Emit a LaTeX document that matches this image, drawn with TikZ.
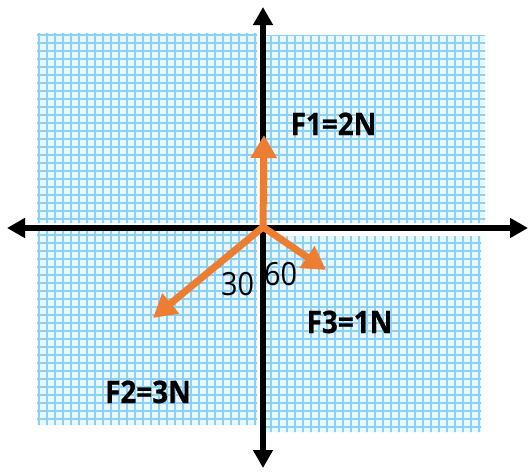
\documentclass[tikz,border=0pt]{standalone}
\usepackage{fontspec}
\setmainfont{Open Sans}
\usetikzlibrary{arrows.meta}
\definecolor{gridblue}{RGB}{140,208,242}
\definecolor{gridfill}{RGB}{232,246,253}
\definecolor{forceorange}{RGB}{237,125,49}
\begin{document}
\begin{tikzpicture}[x=1pt,y=-1pt,
  axis/.style={line width=6pt, black, {Triangle[width=19pt,length=18pt]}-{Triangle[width=19pt,length=18pt]}},
  force/.style={line width=7pt, forceorange, line cap=round, -{Triangle[width=25pt,length=23pt]}},
  flabel/.style={font=\fontsize{31}{33}\selectfont\bfseries\addfontfeatures{FakeStretch=0.9,FakeBold=0.6}, anchor=base, inner sep=0pt},
  alabel/.style={font=\fontsize{32}{34}\selectfont\addfontfeatures{FakeStretch=0.9}, anchor=base, inner sep=0pt},
  gridline/.style={gridblue, line width=1.6pt}]
\useasboundingbox (0,0) rectangle (529,471);
\fill[white] (0,0) rectangle (529,471);
% grid patches
\begin{scope}
  \clip (37,33) rectangle (257,223) (262,35) rectangle (485,223)
        (37,230) rectangle (257,425) (262,236) rectangle (481,432);
  \fill[gridfill] (30,30) rectangle (490,435);
  \foreach \gx in {39,47,...,487} \draw[gridline] (\gx,30) -- (\gx,435);
  \foreach \gy in {35,43,...,435} \draw[gridline] (30,\gy) -- (490,\gy);
\end{scope}
% axes
\coordinate (top) at (263,7);
\coordinate (bot) at (263,468);
\coordinate (lft) at (7,228);
\coordinate (rgt) at (528,228);
\draw[axis] (bot) -- (top);
\draw[axis] (lft) -- (rgt);
% forces
\coordinate (O) at (263,227);
\coordinate (t1) at (264,135);
\coordinate (t2) at (153,318);
\coordinate (t3) at (326,270);
\draw[force] (O) -- (t1);
\draw[force] (O) -- (t2);
\draw[force] (O) -- (t3);
% labels
\node[flabel] (f1) at (333.5,135) {F1=2N};
\node[flabel] (f3) at (349.5,333) {F3=1N};
\node[flabel] (f2) at (148,403) {F2=3N};
\node[alabel] (a30) at (237.5,295) {30};
\node[alabel] (a60) at (280.5,285) {60};
\end{tikzpicture}
\end{document}
